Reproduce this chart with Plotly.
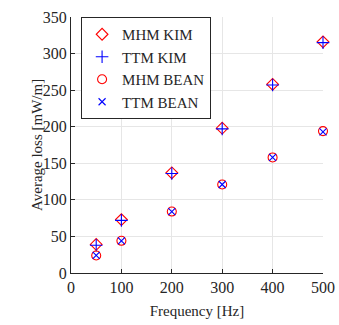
import plotly.graph_objects as go

freq = [50, 100, 200, 300, 400, 500]
mhm_kim = [39, 73, 137, 198, 258, 316]
ttm_kim = [38, 72, 136, 197, 257, 315]
mhm_bean = [24, 44, 84, 121, 158, 194]
ttm_bean = [24, 44, 84, 121, 158, 193]

x_ticks = [0, 100, 200, 300, 400, 500]
y_ticks = [0, 50, 100, 150, 200, 250, 300, 350]

FONT = "Liberation Serif"

fig = go.Figure()
fig.add_trace(go.Scatter(x=freq, y=mhm_kim, mode="markers", name="MHM KIM", cliponaxis=False,
                         marker=dict(symbol="diamond-open", size=9, color="red", line=dict(width=1.1, color="red"))))
fig.add_trace(go.Scatter(x=freq, y=ttm_kim, mode="markers", name="TTM KIM", cliponaxis=False,
                         marker=dict(symbol="cross-thin-open", size=9, color="blue", line=dict(width=1.1, color="blue"))))
fig.add_trace(go.Scatter(x=freq, y=mhm_bean, mode="markers", name="MHM BEAN", cliponaxis=False,
                         marker=dict(symbol="circle-open", size=9, color="red", line=dict(width=1.1, color="red"))))
fig.add_trace(go.Scatter(x=freq, y=ttm_bean, mode="markers", name="TTM BEAN", cliponaxis=False,
                         marker=dict(symbol="x-thin-open", size=7, color="blue", line=dict(width=1.1, color="blue"))))

fig.update_layout(
    width=339, height=325,
    margin=dict(l=71, r=16, t=17, b=52),
    paper_bgcolor="white", plot_bgcolor="white",
    font=dict(family=FONT, size=16, color="#262626"),
    showlegend=True,
    legend=dict(x=0.04, y=1.0, xanchor="left", yanchor="top",
                bordercolor="#262626", borderwidth=1, bgcolor="white",
                font=dict(size=15, family=FONT, color="#262626"),
                tracegroupgap=0, itemwidth=30),
    xaxis=dict(range=[0, 500], tickvals=x_ticks, showgrid=True, gridcolor="#e6e6e6",
               showline=True, linecolor="#262626", linewidth=1, ticks="inside", ticklen=4,
               tickcolor="#262626", zeroline=False, mirror=False, automargin=False,
               title=dict(text="Frequency [Hz]", font=dict(size=15), standoff=10)),
    yaxis=dict(range=[0, 350], tickvals=y_ticks, showgrid=True, gridcolor="#e6e6e6",
               showline=True, linecolor="#262626", linewidth=1, ticks="inside", ticklen=4,
               tickcolor="#262626", zeroline=False, mirror=False, automargin=False,
               ticklabelstandoff=0),
    annotations=[dict(text="Average loss [mW/m]", xref="paper", yref="paper",
                      x=-0.135, y=0.5, xanchor="center", yanchor="middle",
                      textangle=-90, showarrow=False,
                      font=dict(size=15, family=FONT, color="#262626"))],
)

fig.write_html("out.html")
